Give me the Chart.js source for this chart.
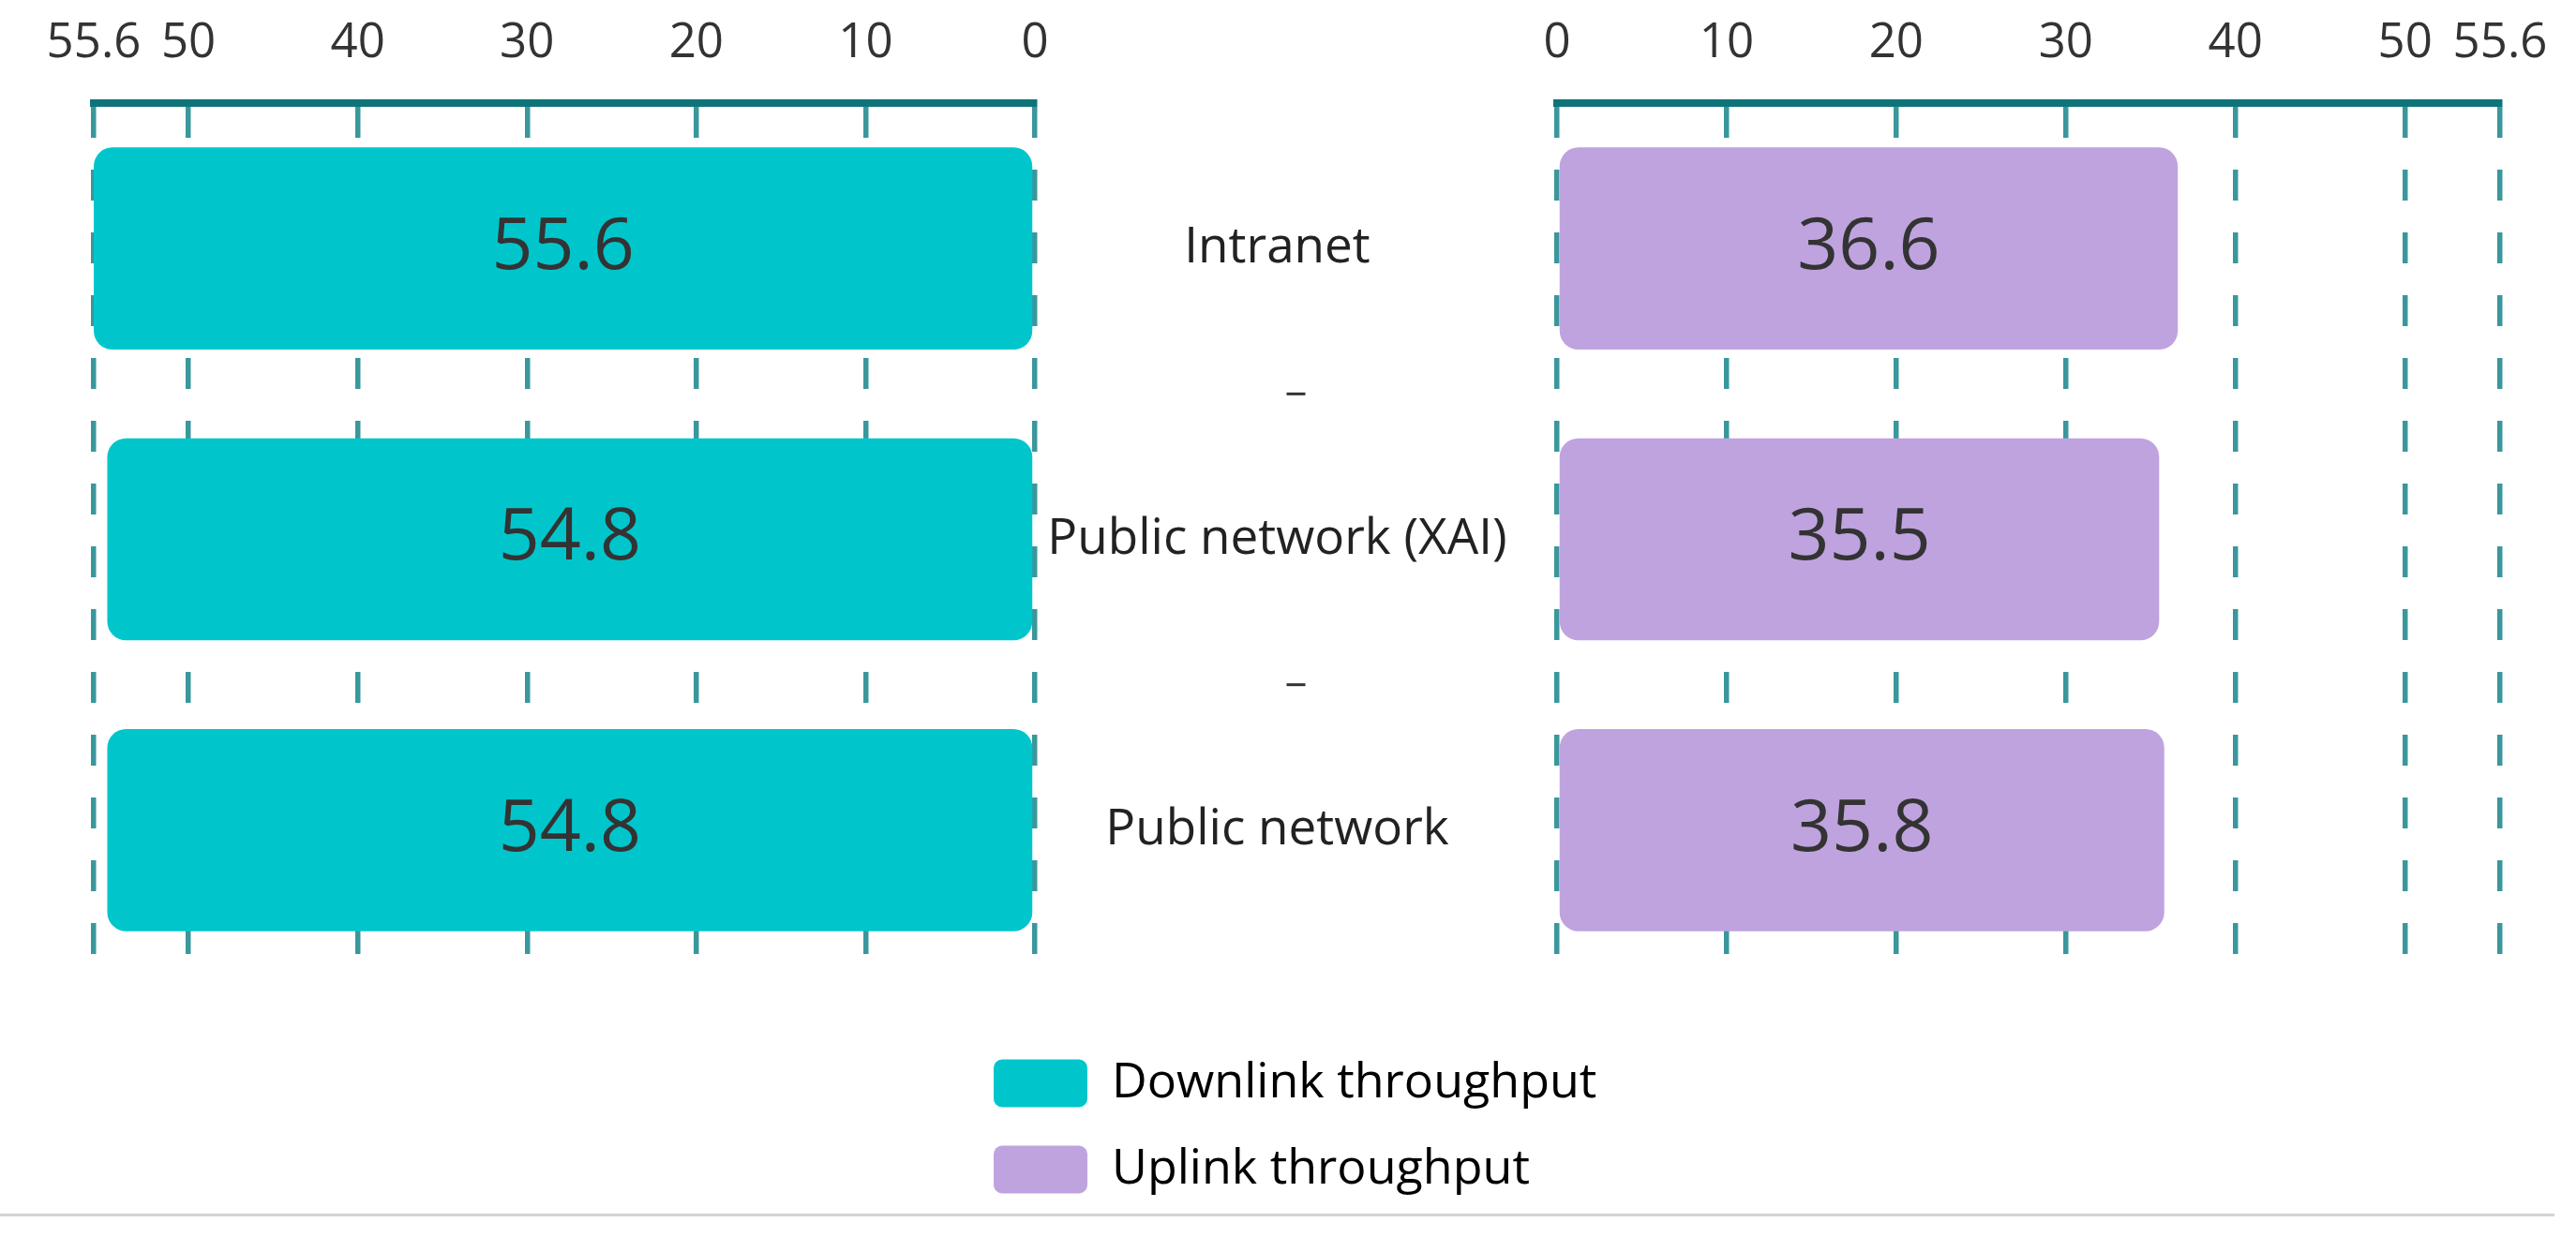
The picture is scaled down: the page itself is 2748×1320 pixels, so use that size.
<!DOCTYPE html>
<html>
<head>
<meta charset="utf-8">
<title>Throughput</title>
<script src="https://cdn.jsdelivr.net/npm/chart.js@4.4.1/dist/chart.umd.min.js"></script>
<style>
  html, body { margin: 0; padding: 0; background: #fff; }
  #wrap { position: relative; width: 2748px; height: 1320px; overflow: hidden; }
  #main { position: absolute; left: 0; top: 0; }
  #legend { position: absolute; left: 1020px; top: 1090px; }
  #rule { position: absolute; left: 0; top: 1295px; width: 2725px; border-top: 3px solid #d4d4d4; }
</style>
</head>
<body>
<div id="wrap">
  <canvas id="main" width="2748" height="1320"></canvas>
  <canvas id="legend" width="1500" height="228"></canvas>
  <div id="rule"></div>
</div>
<script>
// ── Data ──
const categories = ['Intranet', 'Public network (XAI)', 'Public network'];
const downlink = [55.6, 54.8, 54.8];
const uplink = [36.6, 35.5, 35.8];
const axisMax = 55.6;
const tickValues = [0, 10, 20, 30, 40, 50, 55.6];
const seriesNames = ['Downlink throughput', 'Uplink throughput'];

// ── Style ──
const FONT = '"Open Sans", "Noto Sans", sans-serif';
const seriesColors = ['#00C6CC', '#BFA3DF'];
const gridColor = '#3A979C';
const axisColor = '#0F7479';

// bar value text, centred in each bar
const barValues = {
  id: 'barValues',
  afterDatasetsDraw(chart) {
    const ctx = chart.ctx;
    ctx.save();
    ctx.font = `77px ${FONT}`;
    ctx.fillStyle = '#333';
    ctx.textAlign = 'center';
    ctx.textBaseline = 'middle';
    chart.data.datasets.forEach((ds, di) => {
      chart.getDatasetMeta(di).data.forEach((bar, i) => {
        const c = bar.getCenterPoint();
        ctx.fillText(String(ds.data[i]), c.x, c.y);
      });
    });
    ctx.restore();
  }
};

// category names + separators in the gap between the two halves
const middleLabels = {
  id: 'middleLabels',
  afterDraw(chart) {
    const gap = chart.scales.xGap;
    const yScale = chart.scales.y;
    const cx = (gap.left + gap.right) / 2;
    const labels = yScale.getLabels();
    const ctx = chart.ctx;
    ctx.save();
    ctx.font = `53px ${FONT}`;
    ctx.fillStyle = '#222';
    ctx.textAlign = 'center';
    ctx.textBaseline = 'middle';
    labels.forEach((lab, i) => ctx.fillText(lab, cx - 20, yScale.getPixelForValue(i)));
    ctx.fillStyle = '#333';
    for (let i = 0; i < labels.length - 1; i++) {
      const yy = (yScale.getPixelForValue(i) + yScale.getPixelForValue(i + 1)) / 2;
      ctx.fillRect(cx - 10, yy - 1.5, 20, 3);
    }
    ctx.restore();
  }
};

// top boxes are laid out by descending weight, so weight picks left → right order
function valueAxis(stackWeight, weight, reverse) {
  return {
    type: 'linear',
    axis: 'x',
    position: 'top',
    stack: 'top',
    stackWeight,
    weight,
    reverse,
    min: 0,
    max: axisMax,
    afterBuildTicks: s => { s.ticks = tickValues.map(v => ({ value: v })); },
    afterFit: s => { s.height = 110; },
    grid: { color: gridColor, lineWidth: 5.5, drawTicks: false },
    border: { display: true, color: axisColor, width: 8, dash: [33, 34] },
    ticks: {
      autoSkip: false,
      maxRotation: 0,
      padding: 20,
      color: '#333',
      font: { family: FONT, size: 51, lineHeight: 1.69 },
      callback: v => String(v),
    },
  };
}

const barStyle = {
  grouped: false,
  categoryPercentage: 1,
  barPercentage: 0.695,
  borderRadius: 20,
  borderSkipped: false,
};

const mainChart = new Chart(document.getElementById('main'), {
  type: 'bar',
  data: {
    labels: categories,
    datasets: [
      { label: seriesNames[0], data: downlink, xAxisID: 'xL', backgroundColor: seriesColors[0], ...barStyle },
      { label: seriesNames[1], data: uplink, xAxisID: 'xR', backgroundColor: seriesColors[1], ...barStyle },
    ],
  },
  options: {
    indexAxis: 'y',
    responsive: false,
    animation: false,
    devicePixelRatio: 1,
    layout: { padding: { left: 100, right: 81, top: 0, bottom: 279 } },
    scales: {
      xL: valueAxis(1004, 2, true),
      xGap: { type: 'linear', axis: 'x', position: 'top', stack: 'top', stackWeight: 557, weight: 1, display: false },
      xR: valueAxis(1006, 0, false),
      y: { type: 'category', display: false, offset: true },
    },
    plugins: {
      legend: { display: false },
      tooltip: { enabled: false },
    },
  },
  plugins: [barValues, middleLabels],
});

// ── Legend (stacked vertically, below the bars) ──
new Chart(document.getElementById('legend'), {
  type: 'bar',
  data: { datasets: [] },
  options: {
    responsive: false,
    animation: false,
    devicePixelRatio: 1,
    scales: { x: { display: false }, y: { display: false } },
    plugins: {
      tooltip: { enabled: false },
      legend: {
        position: 'left',
        align: 'start',
        labels: {
          boxWidth: 100,
          boxHeight: 51,
          padding: 40,
          color: '#333',
          font: { family: FONT, size: 52 },
          generateLabels: () => mainChart.data.datasets.map((ds, i) => ({
            text: ds.label,
            fillStyle: ds.backgroundColor,
            strokeStyle: ds.backgroundColor,
            lineWidth: 0,
            hidden: false,
            datasetIndex: i,
            borderRadius: 9,
          })),
        },
      },
    },
  },
});
</script>
</body>
</html>
